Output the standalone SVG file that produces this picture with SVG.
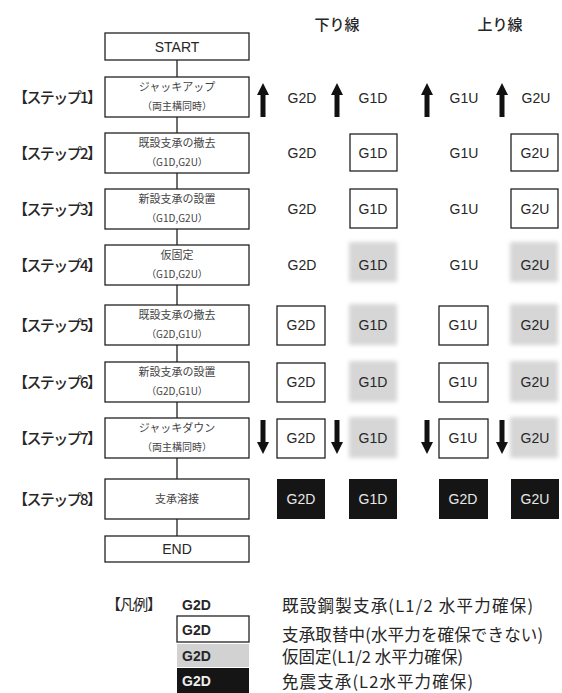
<svg xmlns="http://www.w3.org/2000/svg" width="562" height="693" viewBox="0 0 562 693">
<style>
text{font-family:"Liberation Sans","Noto Sans CJK JP",sans-serif;fill:#262626}
.jp{font-family:"Noto Sans CJK JP","Liberation Sans",sans-serif}
.step{font-size:15px;font-weight:500}
.hdr{font-size:15px;font-weight:500}
.box{fill:#fff;stroke:#222;stroke-width:1.3}
.l1{font-size:11px;text-anchor:middle;fill:#444}
.l2{font-size:10px;text-anchor:middle;fill:#444}
.se{font-size:14px;text-anchor:middle}
.cell{font-size:14px;text-anchor:middle}
.cbox{fill:#fff;stroke:#222;stroke-width:1.3}
.gray{fill:#d6d6d6;filter:url(#blur)}
.black{fill:#151515}
.wt{fill:#e8e8e8}
.conn{stroke:#222;stroke-width:1.3;fill:none}
.leg{font-size:16.5px}
.lg{font-size:14px;font-weight:bold;fill:#262626}
</style>
<defs>
<filter id="blur" x="-20%" y="-20%" width="140%" height="140%"><feGaussianBlur stdDeviation="2"/></filter>
<polygon id="up" points="0,-17 6,-5 2.5,-5 2.5,17 -2.5,17 -2.5,-5 -6,-5" fill="#111"/>
<polygon id="down" points="0,17 6,5 2.5,5 2.5,-17 -2.5,-17 -2.5,5 -6,5" fill="#111"/>
</defs>
<rect width="562" height="693" fill="#fff"/>

<g id="headers">
<text class="hdr jp" x="337" y="30" text-anchor="middle">下り線</text>
<text class="hdr jp" x="500" y="30" text-anchor="middle">上り線</text>
</g>

<g id="connectors">
<path class="conn" d="M177,60V77 M177,117V133 M177,173V189 M177,229V245 M177,285V305 M177,345V362 M177,402V418 M177,458V479 M177,519V536"/>
</g>

<g id="start"><rect class="box" x="105" y="33" width="144" height="27"/><text class="se" x="177" y="52">START</text></g>

<g id="step1">
<text class="step jp" x="13" y="103" textLength="89">【ステップ1】</text>
<rect class="box" x="105" y="77" width="144" height="40"/>
<text class="l1 jp" x="177" y="91">ジャッキアップ</text><text class="l2 jp" x="177" y="110">（両主構同時）</text>
<use href="#up" x="263" y="100"/><use href="#up" x="337" y="100"/><use href="#up" x="427" y="100"/><use href="#up" x="502" y="100"/>
<text class="cell" x="302" y="103">G2D</text><text class="cell" x="373" y="103">G1D</text><text class="cell" x="464" y="103">G1U</text><text class="cell" x="536" y="103">G2U</text>
</g>

<g id="step2">
<text class="step jp" x="13" y="159" textLength="89">【ステップ2】</text>
<rect class="box" x="105" y="133" width="144" height="40"/>
<text class="l1 jp" x="177" y="147">既設支承の撤去</text><text class="l2 jp" x="177" y="166">（G1D,G2U）</text>
<rect class="cbox" x="350" y="134" width="47" height="37"/><rect class="cbox" x="511" y="134" width="47" height="37"/>
<text class="cell" x="302" y="158">G2D</text><text class="cell" x="373" y="158">G1D</text><text class="cell" x="464" y="158">G1U</text><text class="cell" x="535" y="158">G2U</text>
</g>

<g id="step3">
<text class="step jp" x="13" y="215" textLength="89">【ステップ3】</text>
<rect class="box" x="105" y="189" width="144" height="40"/>
<text class="l1 jp" x="177" y="203">新設支承の設置</text><text class="l2 jp" x="177" y="222">（G1D,G2U）</text>
<rect class="cbox" x="350" y="189" width="47" height="39"/><rect class="cbox" x="511" y="189" width="47" height="39"/>
<text class="cell" x="302" y="214">G2D</text><text class="cell" x="373" y="214">G1D</text><text class="cell" x="464" y="214">G1U</text><text class="cell" x="535" y="214">G2U</text>
</g>

<g id="step4">
<text class="step jp" x="13" y="271" textLength="89">【ステップ4】</text>
<rect class="box" x="105" y="245" width="144" height="40"/>
<text class="l1 jp" x="177" y="259">仮固定</text><text class="l2 jp" x="177" y="278">（G1D,G2U）</text>
<rect class="gray" x="349" y="242" width="48" height="40"/><rect class="gray" x="510" y="242" width="48" height="40"/>
<text class="cell" x="302" y="270">G2D</text><text class="cell" x="373" y="270">G1D</text><text class="cell" x="464" y="270">G1U</text><text class="cell" x="535" y="270">G2U</text>
</g>

<g id="step5">
<text class="step jp" x="13" y="331" textLength="89">【ステップ5】</text>
<rect class="box" x="105" y="305" width="144" height="40"/>
<text class="l1 jp" x="177" y="319">既設支承の撤去</text><text class="l2 jp" x="177" y="338">（G2D,G1U）</text>
<rect class="cbox" x="277" y="306" width="48" height="39"/><rect class="cbox" x="439" y="306" width="49" height="39"/>
<rect class="gray" x="349" y="304" width="48" height="41"/><rect class="gray" x="510" y="304" width="48" height="41"/>
<text class="cell" x="301" y="330">G2D</text><text class="cell" x="373" y="330">G1D</text><text class="cell" x="463" y="330">G1U</text><text class="cell" x="535" y="330">G2U</text>
</g>

<g id="step6">
<text class="step jp" x="13" y="388" textLength="89">【ステップ6】</text>
<rect class="box" x="105" y="362" width="144" height="40"/>
<text class="l1 jp" x="177" y="376">新設支承の設置</text><text class="l2 jp" x="177" y="395">（G2D,G1U）</text>
<rect class="cbox" x="277" y="363" width="48" height="39"/><rect class="cbox" x="439" y="363" width="49" height="39"/>
<rect class="gray" x="349" y="361" width="48" height="41"/><rect class="gray" x="510" y="361" width="48" height="41"/>
<text class="cell" x="301" y="387">G2D</text><text class="cell" x="373" y="387">G1D</text><text class="cell" x="463" y="387">G1U</text><text class="cell" x="535" y="387">G2U</text>
</g>

<g id="step7">
<text class="step jp" x="13" y="444" textLength="89">【ステップ7】</text>
<rect class="box" x="105" y="418" width="144" height="40"/>
<text class="l1 jp" x="177" y="432">ジャッキダウン</text><text class="l2 jp" x="177" y="451">（両主構同時）</text>
<use href="#down" x="263" y="437"/><use href="#down" x="337" y="437"/><use href="#down" x="427" y="437"/><use href="#down" x="502" y="437"/>
<rect class="cbox" x="277" y="419" width="48" height="39"/><rect class="cbox" x="439" y="419" width="49" height="39"/>
<rect class="gray" x="349" y="417" width="48" height="41"/><rect class="gray" x="510" y="417" width="48" height="41"/>
<text class="cell" x="301" y="443">G2D</text><text class="cell" x="373" y="443">G1D</text><text class="cell" x="463" y="443">G1U</text><text class="cell" x="535" y="443">G2U</text>
</g>

<g id="step8">
<text class="step jp" x="13" y="505" textLength="89">【ステップ8】</text>
<rect class="box" x="105" y="479" width="144" height="40"/>
<text class="l1 jp" x="177" y="503">支承溶接</text>
<rect class="black" x="277" y="479" width="48" height="40"/><rect class="black" x="349" y="479" width="48" height="40"/>
<rect class="black" x="439" y="479" width="49" height="40"/><rect class="black" x="511" y="479" width="48" height="40"/>
<text class="cell wt" x="301" y="504">G2D</text><text class="cell wt" x="373" y="504">G1D</text><text class="cell wt" x="463" y="504">G2D</text><text class="cell wt" x="535" y="504">G2U</text>
</g>

<g id="end"><rect class="box" x="105" y="536" width="144" height="26"/><text class="se" x="177" y="554">END</text></g>

<g id="legend">
<text class="leg jp" x="106" y="610" textLength="56" style="font-size:15px">【凡例】</text>
<text class="lg" x="182" y="610">G2D</text>
<rect class="cbox" x="177" y="616" width="72" height="26"/>
<text class="lg" x="182" y="635">G2D</text>
<rect x="177" y="644" width="72" height="23" fill="#d2d2d2"/>
<text class="lg" x="182" y="661">G2D</text>
<rect x="177" y="668" width="72" height="25" fill="#151515"/>
<text class="lg" x="182" y="686" style="fill:#eee">G2D</text>
<text class="leg jp" x="282" y="612" textLength="251">既設鋼製支承(L1/2 水平力確保)</text>
<text class="leg jp" x="282" y="641" textLength="261">支承取替中(水平力を確保できない)</text>
<text class="leg jp" x="282" y="663" textLength="181">仮固定(L1/2 水平力確保)</text>
<text class="leg jp" x="282" y="688" textLength="191">免震支承(L2水平力確保)</text>
</g>
</svg>
